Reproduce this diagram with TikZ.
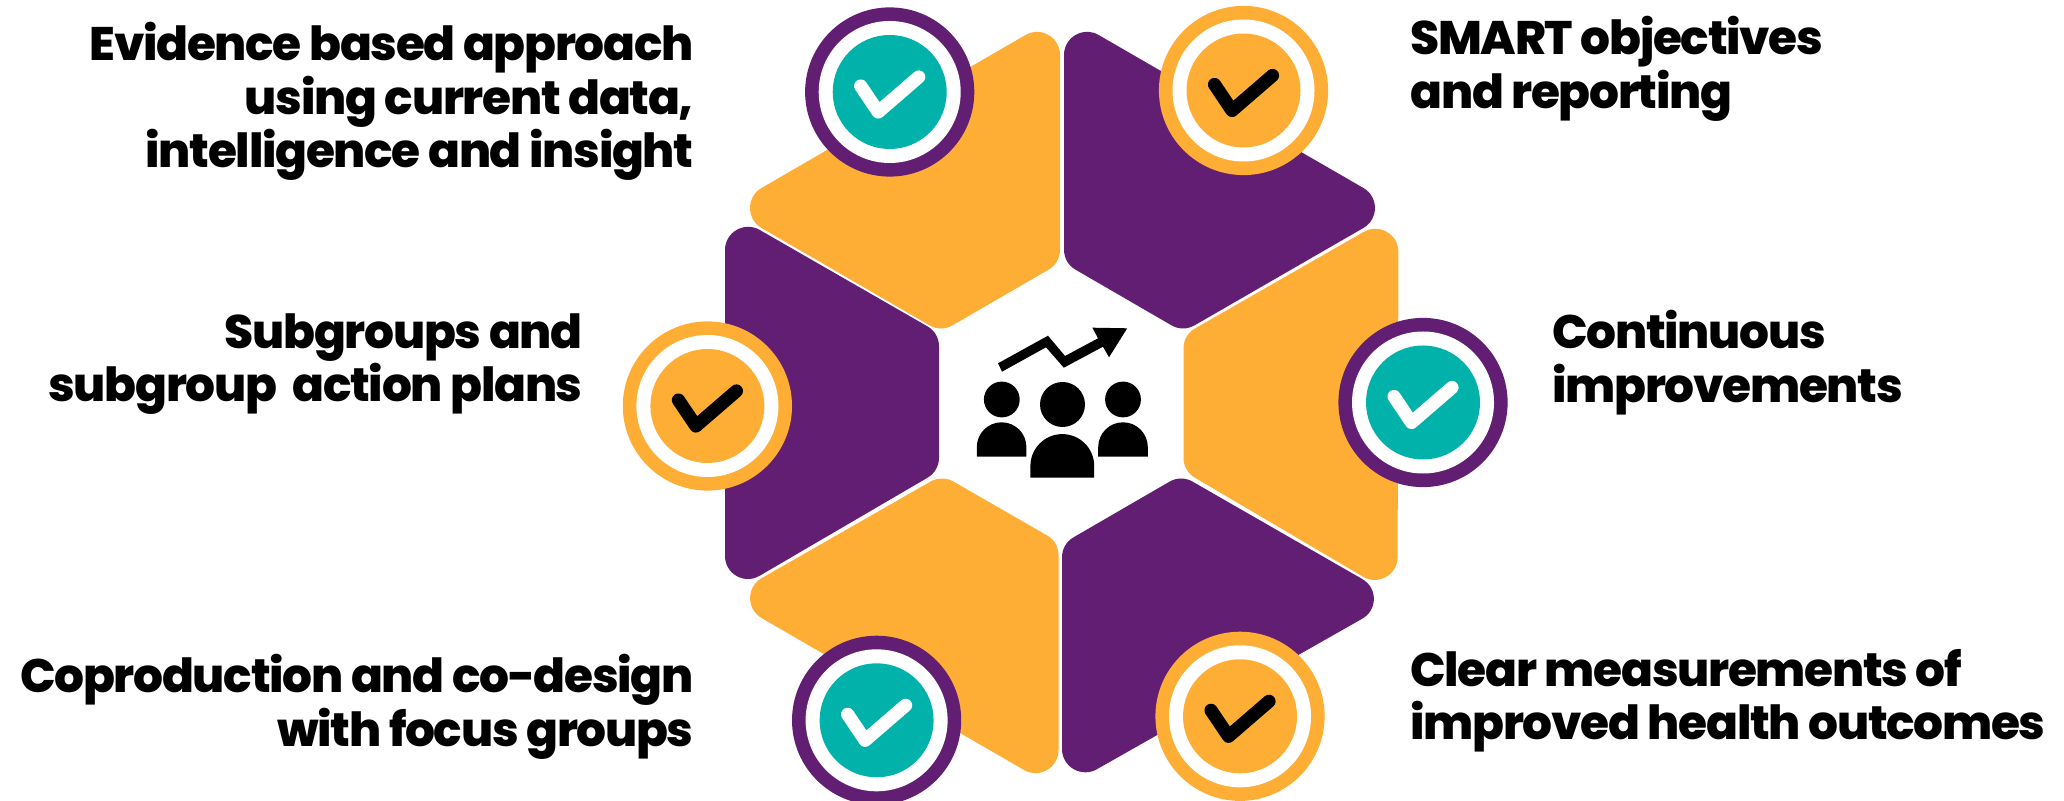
\documentclass[tikz,border=0pt]{standalone}
\usepackage{fontspec}
\setmainfont{Poppins}[UprightFont={* ExtraBold},LetterSpace=-2.8]
\usetikzlibrary{calc}
\definecolor{org}{HTML}{FFAE35}
\definecolor{pur}{HTML}{611E73}
\definecolor{tea}{HTML}{00B2A9}
\tikzset{x=0.5pt,y=-0.5pt,
 lab/.style={font=\fontsize{23.5}{26.75}\selectfont,inner sep=0pt},
 tick/.style={line width=6.6pt,line cap=round,line join=round}}
% corner at #2 with neighbours #1 and #3: 60 degree corners (long) and 120 degree corners (short)
\newcommand{\sharpc}[3]{-- ($(#2)!20pt!(#1)$) .. controls ($(#2)!11.1pt!(#1)$) and ($(#2)!11.1pt!(#3)$) .. ($(#2)!20pt!(#3)$)}
\newcommand{\obtc}[3]{-- ($(#2)!6.6pt!(#1)$) .. controls ($(#2)!2.5pt!(#1)$) and ($(#2)!2.5pt!(#3)$) .. ($(#2)!6.6pt!(#3)$)}
% hexagon part: A acute, B obtuse, C obtuse, D acute, in order
\newcommand{\hexpart}[5]{%
 \coordinate (A) at #2; \coordinate (B) at #3; \coordinate (C) at #4; \coordinate (D) at #5;
 \fill[#1] ($(A)!.5!(B)$) \obtc{A}{B}{C} \obtc{B}{C}{D} \sharpc{C}{D}{A} \sharpc{D}{A}{B} -- cycle;}
\newcommand{\badge}[5]{%
 \fill[#3] (#1,#2) circle (84.6);
 \fill[white] (#1,#2) circle (71);
 \fill[#4] (#1,#2) circle (57);
 \draw[tick,#5] (#1-29,#2-6) -- (#1-11.5,#2+20) -- (#1+29,#2-15);
}
\begin{document}
\begin{tikzpicture}
\useasboundingbox (0,0) rectangle (2064,801);
\fill[white] (0,0) rectangle (2064,801);
\hexpart{org}{(1060,15)}{(1060,263)}{(941,332)}{(727,208)}
\hexpart{pur}{(1064,15)}{(1064,263)}{(1183,332)}{(1398,208)}
\hexpart{org}{(1398.5,212)}{(1183.5,335)}{(1183.5,471)}{(1397.5,597)}
\hexpart{pur}{(1062,789)}{(1062,544)}{(1181,475)}{(1397,599)}
\hexpart{org}{(1058.5,790)}{(1058.5,542)}{(942,475)}{(727,598)}
\hexpart{pur}{(725,210)}{(939,333)}{(939,471)}{(725,596)}
\badge{889.7}{92}{pur}{tea}{white}
\badge{1243.5}{90.5}{org}{org}{black}
\badge{1423}{402.5}{pur}{tea}{white}
\badge{1240}{716.3}{org}{org}{black}
\badge{876.6}{720.3}{pur}{tea}{white}
\badge{707.4}{406}{org}{org}{black}
% people
\fill (1001.8,399.5) circle (17.9);
\fill (1062.5,404.5) circle (22.5);
\fill (1123,399.5) circle (17.9);
\fill (976.8,456.7) -- (976.8,447.1) arc[start angle=180,end angle=360,radius=24.8] -- (1026.4,456.7) -- cycle;
\fill (1098.2,456.7) -- (1098.2,447.1) arc[start angle=180,end angle=360,radius=24.8] -- (1147.8,456.7) -- cycle;
\fill (1030.4,477.7) -- (1030.4,466) arc[start angle=180,end angle=360,radius=31.9] -- (1094.2,477.7) -- cycle;
% rising arrow
\fill (998,363.3) -- (1048,335.7) -- (1065,356) -- (1098,338.3) -- (1092.4,327.7) -- (1127.2,328.3) -- (1109,357.3) -- (1103,346.7) -- (1063.8,367.7) -- (1046,347.3) -- (1002,371.7) -- cycle;
\node[lab,anchor=north east,align=right] (t1) at (694,22) {Evidence based approach\\using current data,\\intelligence and insight};
\node[lab,anchor=north west,align=left] (t2) at (1410,16) {SMART objectives\\and reporting};
\node[lab,anchor=north east,align=right] (t3) at (583,313) {Subgroups and\\subgroup\ \ action plans};
\node[lab,anchor=north west,align=left] (t4) at (1552,310) {Continuous\\improvements};
\node[lab,anchor=north east,align=right] (t5) at (694,654) {Coproduction and co-design\\with focus groups};
\node[lab,anchor=north west,align=left] (t6) at (1410,649) {Clear measurements of\\improved health outcomes};
\end{tikzpicture}
\end{document}
